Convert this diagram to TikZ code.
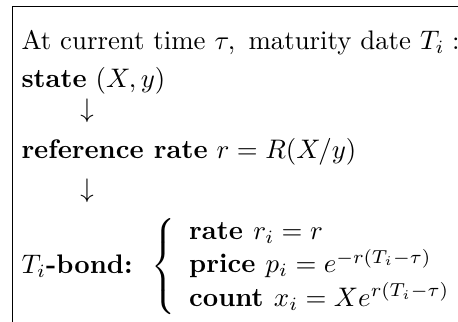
\documentclass[tikz,border=0pt]{standalone}
\usepackage{amsmath,amssymb}
\usepackage{tikz}
\usetikzlibrary{positioning}

\begin{document}
\begin{tikzpicture}[x=0.373pt, y=-0.373pt,
      txt/.style={inner sep=0pt, anchor=base west, font=\normalsize},
      dn/.style={inner sep=0pt, anchor=base},
      frame/.style={draw=black, line width=0.4pt}]
    \useasboundingbox (0,0) rectangle (458,322);
    % open frame: top and left edge only
    \coordinate (tl) at (12.5,6.5);
    \coordinate (tr) at (458,6.5);
    \coordinate (bl) at (12.5,322);
    \draw[frame] (tr) -- (tl) -- (bl);
    \node[txt] (head) at (21,49) {At current time $\tau,\,$ maturity date $T_i:$};
    \node[txt] (state) at (21,87) {\textbf{state} $(X,y)$};
    \node[dn] (dn1) at (87,117) {$\downarrow$};
    \node[txt] (rate) at (21,158) {\textbf{reference rate} $r=R(X/y)$};
    \node[dn] (dn2) at (87,197) {$\downarrow$};
    \node[txt] (bond) at (21,273) {$T_i$\textbf{-bond:}
      $\;\left\{\begin{array}{l}
        \textbf{rate } r_i=r\\
        \textbf{price } p_i=e^{-r(T_i-\tau)}\\
        \textbf{count } x_i=Xe^{r(T_i-\tau)}
      \end{array}\right.$};
\end{tikzpicture}
\end{document}
